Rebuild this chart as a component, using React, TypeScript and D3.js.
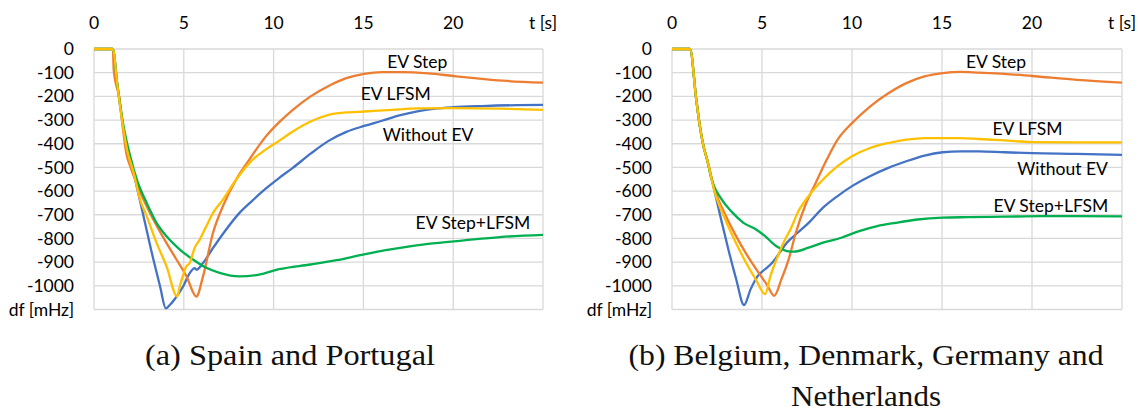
import React from "react";
import * as d3 from "d3";

// ---------- tick labels ----------
const xTickValues = [0, 5, 10, 15, 20, 25];
const xTickLabels = ["0", "5", "10", "15", "20", "t [s]"];
const yTickValues = [0, -100, -200, -300, -400, -500, -600, -700, -800, -900, -1000, -1100];
const yTickLabels = ["0", "-100", "-200", "-300", "-400", "-500", "-600", "-700", "-800", "-900", "-1000", "df [mHz]"];

// ---------- (a) Spain and Portugal ----------
const spWithoutEvT = [0, 1.05, 1.29, 1.65, 2.21, 2.76, 3.31, 3.68, 4.0, 4.23, 4.6, 4.96, 5.33, 5.6, 5.7, 6.07, 6.62, 7.35, 8.09, 8.82, 9.56, 10.3, 11.07, 12.06, 13.06, 14.05, 15.04, 16.03, 17, 18, 19, 20, 21.6, 23.6, 25];
const spWithoutEvDf = [0, 0, -145, -342, -525, -707, -890, -1003, -1095, -1080, -1045, -1003, -946, -925, -932, -904, -841, -763, -693, -640, -590, -545, -502, -442, -388, -350, -325, -303, -280, -263, -252, -246, -241, -237, -236];

const spStepT = [0, 1.05, 1.1, 1.43, 1.62, 1.8, 2.02, 2.3, 2.76, 3.31, 4.04, 4.6, 5.15, 5.7, 6.07, 6.62, 7.17, 7.9, 8.64, 9.56, 10.3, 11.07, 12.06, 13.06, 14.05, 15.04, 16.03, 17.2, 18.6, 20, 21.6, 23, 25];
const spStepDf = [0, 0, -89, -215, -342, -440, -496, -553, -637, -721, -820, -890, -960, -1045, -960, -778, -665, -553, -468, -370, -310, -257, -200, -156, -123, -105, -98, -98, -103, -114, -126, -135, -142];

const spLfsmT = [0, 1.05, 1.29, 1.56, 1.84, 2.21, 2.57, 2.94, 3.49, 4.04, 4.63, 4.78, 5.15, 5.33, 5.51, 5.6, 5.88, 6.25, 6.62, 7.17, 7.9, 8.82, 9.56, 10.3, 11.07, 12.06, 13.06, 14.05, 15.04, 16.6, 18, 20, 22.6, 25];
const spLfsmDf = [0, 0, -145, -300, -425, -523, -637, -707, -820, -918, -1045, -1002, -917, -904, -862, -841, -806, -749, -693, -637, -553, -468, -425, -388, -348, -306, -278, -268, -264, -257, -251, -250, -252, -257];

const spStepLfsmT = [0, 1.05, 1.29, 1.65, 2.02, 2.39, 2.94, 3.49, 4.04, 4.78, 5.51, 6.25, 6.99, 8.09, 9.19, 10.3, 12.06, 13.5, 15.04, 16.6, 18.6, 20.6, 22.6, 25];
const spStepLfsmDf = [0, 0, -145, -328, -454, -553, -651, -735, -791, -847, -889, -924, -945, -960, -953, -930, -910, -892, -867, -845, -823, -808, -794, -785];

// ---------- (b) Belgium, Denmark, Germany and Netherlands ----------
const bdWithoutEvT = [0, 1.0, 1.35, 1.55, 1.75, 1.95, 2.36, 2.76, 3.16, 3.56, 4.0, 4.37, 4.77, 5.17, 5.58, 5.98, 6.38, 6.98, 7.59, 8.39, 9.2, 10, 11, 12.02, 13.02, 14.03, 15.04, 16.04, 17.05, 18.46, 20, 22.5, 25];
const bdWithoutEvDf = [0, 0, -215, -327, -411, -467, -600, -730, -855, -970, -1081, -1014, -958, -930, -902, -860, -818, -776, -734, -670, -621, -579, -537, -502, -474, -450, -436, -432, -432, -436, -440, -443, -447];

const bdStepT = [0, 1.0, 1.35, 1.55, 1.75, 1.95, 2.36, 2.96, 3.56, 4.17, 4.77, 5.27, 5.68, 6.08, 6.48, 6.88, 7.39, 7.99, 8.6, 9.2, 10, 11, 12.02, 13.02, 14.03, 15.04, 16.04, 17.05, 18.46, 20, 22.5, 25];
const bdStepDf = [0, 0, -215, -327, -411, -467, -590, -700, -790, -870, -940, -995, -1042, -972, -888, -776, -663, -565, -467, -383, -313, -243, -187, -144, -116, -102, -97, -100, -105, -114, -130, -142];

const bdLfsmT = [0, 1.0, 1.35, 1.55, 1.75, 1.95, 2.36, 2.96, 3.56, 4.17, 4.67, 5.17, 5.47, 5.88, 6.28, 6.58, 6.98, 7.59, 8.39, 9.2, 10, 11, 12.02, 13.02, 14.03, 15.04, 16.04, 17.05, 18.46, 20, 22.5, 25];
const bdLfsmDf = [0, 0, -215, -327, -411, -467, -600, -720, -820, -910, -975, -1035, -958, -874, -804, -762, -691, -621, -551, -495, -453, -418, -397, -383, -376, -376, -376, -380, -386, -393, -394, -394];

const bdStepLfsmT = [0, 1.0, 1.35, 1.55, 1.75, 1.95, 2.15, 2.76, 3.36, 3.97, 4.67, 5.17, 5.78, 6.38, 6.78, 7.59, 8.39, 9.4, 10.4, 11.4, 12.42, 13.63, 15.04, 16.45, 18.46, 20.5, 22.5, 25];
const bdStepLfsmDf = [0, 0, -215, -327, -411, -467, -537, -635, -691, -734, -762, -790, -832, -853, -856, -839, -818, -797, -769, -748, -734, -720, -712, -710, -708, -706, -706, -707];

const seriesNames = ["Without EV", "EV Step", "EV Step+LFSM", "EV LFSM"];
const seriesColors = ["#4472C4", "#ED7D31", "#00B050", "#FFC000"];

const captionA = "(a) Spain and Portugal";
const captionB1 = "(b) Belgium, Denmark, Germany and";
const captionB2 = "Netherlands";

const FONT = "Lato, 'Open Sans', sans-serif";
const FS = 17.5;

type Panel = {
  x0: number;
  x1: number;
  series: { t: number[]; v: number[] }[];
  labels: { text: string; t: number; v: number }[];
};

const panels: Panel[] = [
  {
    x0: 94,
    x1: 543,
    series: [
      { t: spWithoutEvT, v: spWithoutEvDf },
      { t: spStepT, v: spStepDf },
      { t: spStepLfsmT, v: spStepLfsmDf },
      { t: spLfsmT, v: spLfsmDf },
    ],
    labels: [
      { text: "EV Step", t: 18, v: -53 },
      { text: "EV LFSM", t: 16.8, v: -190 },
      { text: "Without EV", t: 18.6, v: -361 },
      { text: "EV Step+LFSM", t: 21.1, v: -736 },
    ],
  },
  {
    x0: 672,
    x1: 1122,
    series: [
      { t: bdWithoutEvT, v: bdWithoutEvDf },
      { t: bdStepT, v: bdStepDf },
      { t: bdStepLfsmT, v: bdStepLfsmDf },
      { t: bdLfsmT, v: bdLfsmDf },
    ],
    labels: [
      { text: "EV Step", t: 18, v: -53 },
      { text: "EV LFSM", t: 19.75, v: -339 },
      { text: "Without EV", t: 21.7, v: -508 },
      { text: "EV Step+LFSM", t: 21.05, v: -663 },
    ],
  },
];

const TOP = 49;
const BOTTOM = 309.5;

function ChartPanel({ p }: { p: Panel }) {
  const x = d3.scaleLinear().domain([0, 25]).range([p.x0, p.x1]);
  const y = d3.scaleLinear().domain([-1100, 0]).range([BOTTOM, TOP]);
  const line = d3
    .line<[number, number]>()
    .x((d) => x(d[0]))
    .y((d) => y(d[1]))
    .curve(d3.curveMonotoneX);
  return (
    <g>
      {yTickValues.map((v) => (
        <line key={"h" + v} x1={p.x0} x2={p.x1} y1={y(v)} y2={y(v)} stroke="#D9D9D9" strokeWidth={1.3} />
      ))}
      {xTickValues.map((t) => (
        <line key={"v" + t} x1={x(t)} x2={x(t)} y1={TOP} y2={BOTTOM} stroke="#D9D9D9" strokeWidth={1.3} />
      ))}
      {yTickValues.map((v, i) => (
        <text key={"yl" + v} x={p.x0 - 20} y={y(v)} dy="0.35em" textAnchor="end" fontFamily={FONT} fontSize={FS} fill="#000">
          {yTickLabels[i]}
        </text>
      ))}
      {xTickValues.map((t, i) => (
        <text key={"xl" + t} x={x(t)} y={23} dy="0.35em" textAnchor="middle" fontFamily={FONT} fontSize={FS} fill="#000">
          {xTickLabels[i]}
        </text>
      ))}
      {p.series.map((s, i) => (
        <path
          key={"s" + i}
          d={line(s.t.map((t, j) => [t, s.v[j]] as [number, number])) || ""}
          fill="none"
          stroke={seriesColors[i]}
          strokeWidth={2.3}
          strokeLinejoin="round"
        >
          <title>{seriesNames[i]}</title>
        </path>
      ))}
      {p.labels.map((l) => (
        <text key={l.text} x={x(l.t)} y={y(l.v)} dy="0.35em" textAnchor="middle" fontFamily={FONT} fontSize={FS} fill="#000">
          {l.text}
        </text>
      ))}
    </g>
  );
}

export default function App() {
  return (
    <svg
      width={1138}
      height={412}
      viewBox="0 0 1138 412"
      style={{ position: "absolute", left: 0, top: 0, background: "#fff" }}
    >
      <rect width={1138} height={412} fill="#fff" />
      {panels.map((p, i) => (
        <ChartPanel key={i} p={p} />
      ))}
      <g fontFamily="'Liberation Serif', 'DejaVu Serif', serif" fontSize={29} fill="#111">
        <text x={290} y={365} textAnchor="middle" textLength={290} lengthAdjust="spacingAndGlyphs">{captionA}</text>
        <text x={866} y={365} textAnchor="middle" textLength={475} lengthAdjust="spacingAndGlyphs">{captionB1}</text>
        <text x={866} y={406} textAnchor="middle" textLength={150} lengthAdjust="spacingAndGlyphs">{captionB2}</text>
      </g>
    </svg>
  );
}
